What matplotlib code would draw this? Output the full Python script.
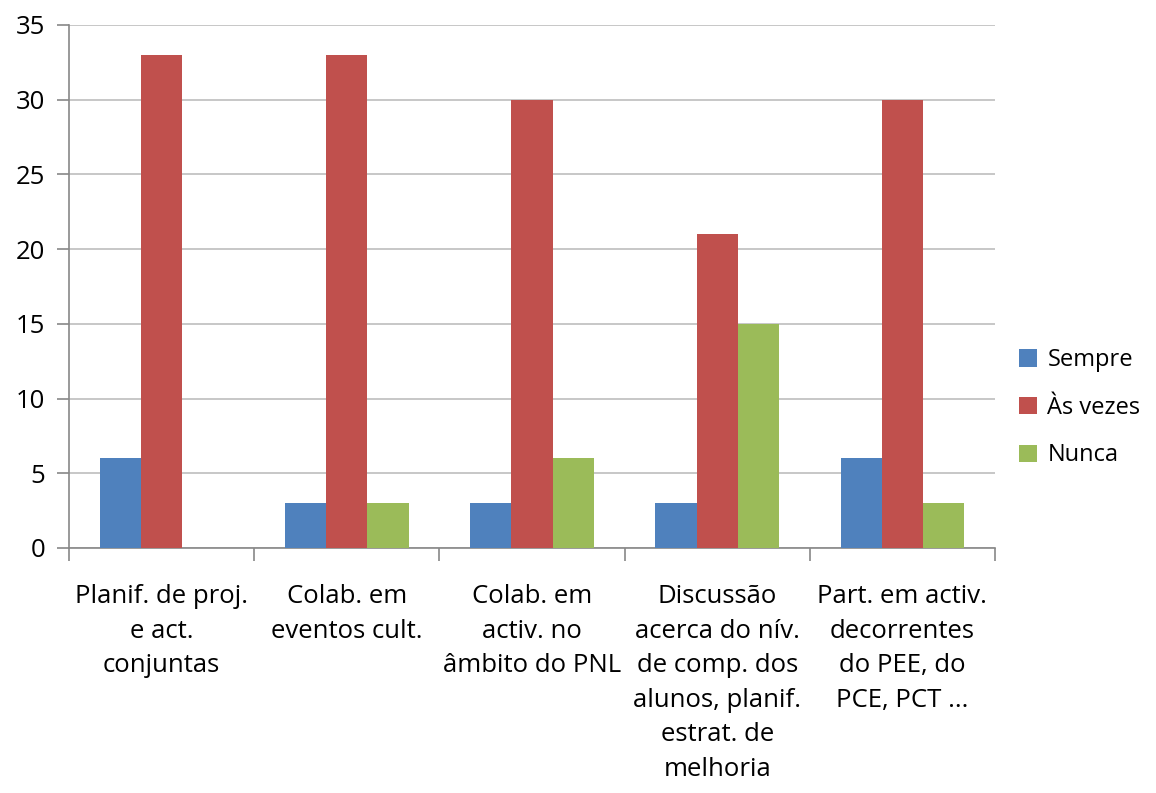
import matplotlib.pyplot as plt
import numpy as np

plt.rcParams['font.family'] = ['Open Sans', 'DejaVu Sans']

categories = ['Planif. de proj.\ne act.\nconjuntas',
              'Colab. em\neventos cult.',
              'Colab. em\nactiv. no\nâmbito do PNL',
              'Discussão\nacerca do nív.\nde comp. dos\nalunos, planif.\nestrat. de\nmelhoria',
              'Part. em activ.\ndecorrentes\ndo PEE, do\nPCE, PCT ...']
series = ['Sempre', 'Às vezes', 'Nunca']
sempre = [6, 3, 3, 3, 6]
as_vezes = [33, 33, 30, 21, 30]
nunca = [0, 3, 6, 15, 3]
colors = ['#4F81BD', '#C0504D', '#9BBB59']

fig = plt.figure(figsize=(11.56, 7.93), dpi=100)
ax = fig.add_axes([0.0597, 0.309, 0.801, 0.6595])

x = np.arange(len(categories))
w = 1 / 4.5
for i, (name, vals) in enumerate(zip(series, [sempre, as_vezes, nunca])):
    ax.bar(x + (i - 1) * w, vals, w, color=colors[i], label=name, zorder=3)

ax.set_xlim(-0.5, len(categories) - 0.5)
ax.set_ylim(0, 35)
ax.set_yticks(range(0, 36, 5))
ax.yaxis.grid(True, color='#BEBEBE', linewidth=1.2, zorder=0)
for s in ['top', 'right']:
    ax.spines[s].set_visible(False)
for s in ['left', 'bottom']:
    ax.spines[s].set_color('#888888')
    ax.spines[s].set_linewidth(1.2)

ax.set_xticks(np.arange(-0.5, len(categories)), minor=False)
ax.set_xticklabels([])
ax.set_xticks(x, minor=True)
ax.set_xticklabels(categories, minor=True, fontsize=18.5, linespacing=1.5, va='top')
ax.tick_params(axis='x', which='major', length=9, color='#888888', width=1.2)
ax.tick_params(axis='x', which='minor', length=0, pad=26)
ax.tick_params(axis='y', length=9, color='#888888', width=1.2, labelsize=18.5, pad=8)

ax.legend(loc='center left', bbox_to_anchor=(1.003, 0.268), frameon=False,
          fontsize=17, handlelength=0.75, handleheight=0.75, handletextpad=0.45,
          labelspacing=1.0)

fig.savefig('out.png', dpi=100)
